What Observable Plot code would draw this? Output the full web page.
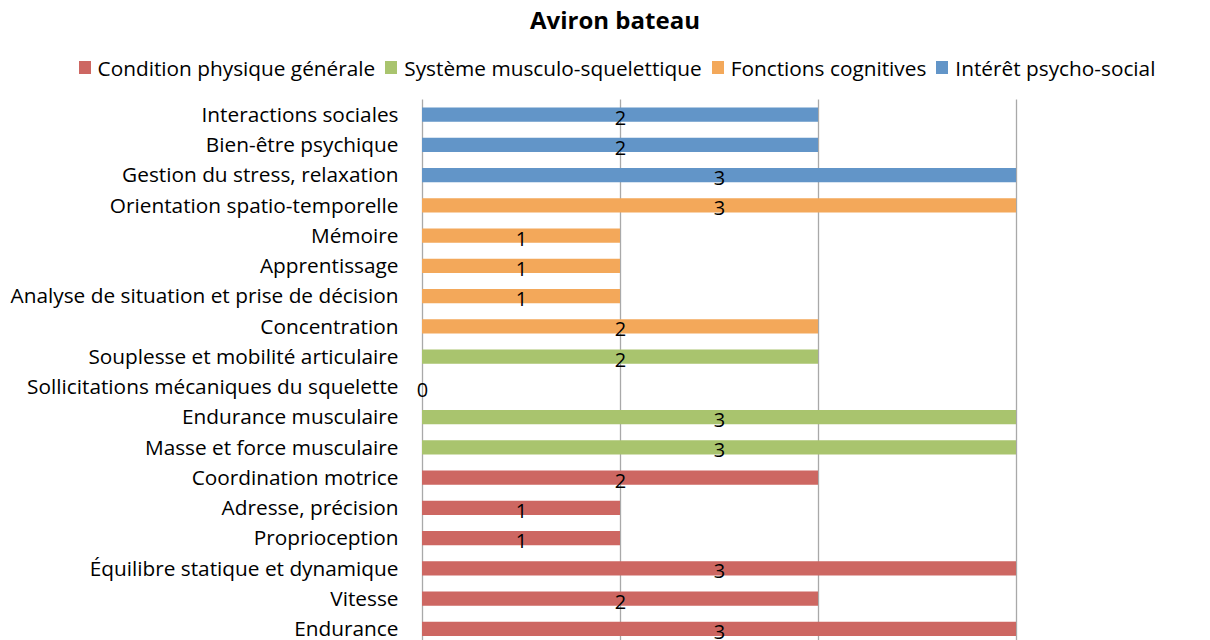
<!DOCTYPE html>
<html>
<head>
<meta charset="utf-8">
<script src="https://cdn.jsdelivr.net/npm/d3@7"></script>
<script src="https://cdn.jsdelivr.net/npm/@observablehq/plot@0.6"></script>
<style>
  body { margin: 0; background: #fff; font-family: "Open Sans", Lato, sans-serif; color: #000; }
  #title { height: 40px; line-height: 40px; text-align: center; font-weight: bold; font-size: 24px; padding-left: 20px; box-sizing: border-box; width: 1210px; }
  #legend { height: 50px; display: flex; justify-content: center; align-items: center; padding-left: 24px; padding-top: 5px; box-sizing: border-box; width: 1210px; font-size: 20.8px; }
  .item { display: flex; align-items: center; margin: 0 5px; }
  .sw { width: 12px; height: 13px; margin-right: 7px; }
  #chart { height: 550px; overflow: hidden; }
</style>
</head>
<body>
<div id="title">Aviron bateau</div>
<div id="legend"></div>
<div id="chart"></div>
<script>
const groupNames = ["Condition physique générale", "Système musculo-squelettique", "Fonctions cognitives", "Intérêt psycho-social"];
const palette = ["#cd6762", "#a9c46e", "#f3a85a", "#6295c8"];

const categories = [
  "Interactions sociales",
  "Bien-être psychique",
  "Gestion du stress, relaxation",
  "Orientation spatio-temporelle",
  "Mémoire",
  "Apprentissage",
  "Analyse de situation et prise de décision",
  "Concentration",
  "Souplesse et mobilité articulaire",
  "Sollicitations mécaniques du squelette",
  "Endurance musculaire",
  "Masse et force musculaire",
  "Coordination motrice",
  "Adresse, précision",
  "Proprioception",
  "Équilibre statique et dynamique",
  "Vitesse",
  "Endurance"
];
const values = [2, 2, 3, 3, 1, 1, 1, 2, 2, 0, 3, 3, 2, 1, 1, 3, 2, 3];
const groups = [
  "Intérêt psycho-social", "Intérêt psycho-social", "Intérêt psycho-social",
  "Fonctions cognitives", "Fonctions cognitives", "Fonctions cognitives", "Fonctions cognitives", "Fonctions cognitives",
  "Système musculo-squelettique", "Système musculo-squelettique", "Système musculo-squelettique", "Système musculo-squelettique",
  "Condition physique générale", "Condition physique générale", "Condition physique générale", "Condition physique générale", "Condition physique générale", "Condition physique générale"
];
const xTicks = [0, 1, 2, 3];

const data = categories.map((c, i) => ({ category: c, value: values[i], group: groups[i] }));

// Legend
const legend = document.getElementById("legend");
groupNames.forEach((g, i) => {
  const it = document.createElement("div");
  it.className = "item";
  const sw = document.createElement("span");
  sw.className = "sw";
  sw.style.background = palette[i];
  const tx = document.createElement("span");
  tx.textContent = g;
  it.appendChild(sw); it.appendChild(tx);
  legend.appendChild(it);
});

const chart = Plot.plot({
  width: 1210,
  height: 575,
  marginTop: 9.5,
  marginBottom: 21,
  marginLeft: 422,
  marginRight: 194,
  style: { fontSize: "20.8px", fontFamily: "'Open Sans', Lato, sans-serif", color: "#000", background: "#fff" },
  x: { domain: [0, 3], axis: null },
  y: { domain: categories, padding: 0, round: false, label: null },
  color: { domain: groupNames, range: palette },
  marks: [
    Plot.ruleX(xTicks, { stroke: "#a9a9a9", strokeWidth: 1.3 }),
    Plot.barX(data, { x: "value", y: "category", fill: "group", insetTop: 8, insetBottom: 8 }),
    Plot.text(data, { x: d => d.value / 2, y: "category", text: d => String(d.value), fill: "#000", dy: 3, fontSize: 20 }),
    Plot.axisY({ tickSize: 0, tickPadding: 24, fontSize: 20.8, label: null })
  ]
});
document.getElementById("chart").appendChild(chart);
</script>
</body>
</html>
